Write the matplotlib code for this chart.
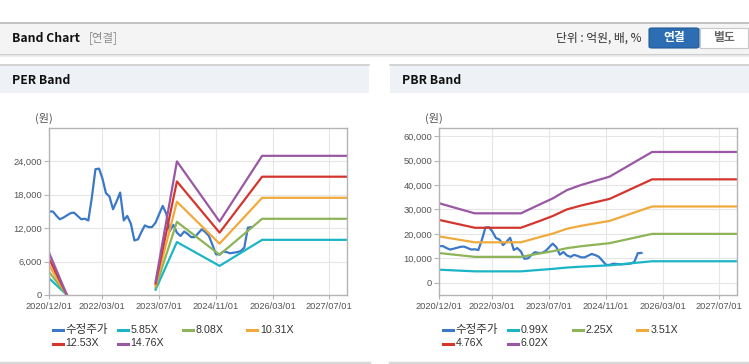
import numpy as np
import pandas as pd
import matplotlib
matplotlib.use('Agg')
import matplotlib.pyplot as plt
import matplotlib.dates as mdates
from matplotlib.patches import Rectangle, FancyBboxPatch
from matplotlib.lines import Line2D
from matplotlib.ticker import FuncFormatter

nan = np.nan

# adjusted share price (monthly)
price = [15000, 15000, 14200, 13600, 13900, 14300, 14700, 14800, 14200, 13600,
         13700, 13400, 17500, 22600, 22700, 21000, 18300, 17700, 15400, 16800,
         18400, 13400, 14200, 12800, 9800, 10000, 11400, 12500, 12200, 12200,
         13000, 14500, 16000, 14600, 11500, 12600, 11200, 10600, 11400, 11000,
         10400, 10400, 11100, 11800, 11300, 10600, 9000, 7300, 7300, 7800,
         7700, 7500, 7600, 7700, 7900, 8500, 12100, 12200]
price_start = '2020-12-01'

# PER band
per_dates = ['2020-12-01', '2021-05-01', '2022-01-01', '2023-06-01',
             '2023-12-01', '2024-12-01', '2025-12-01', '2027-12-01']
per_585 = [2970, 0, nan, 950, 9510, 5230, 9910, 9910]
per_808 = [4100, 0, nan, 1310, 13140, 7230, 13690, 13690]
per_1031 = [5240, 0, nan, 1680, 16760, 9220, 17460, 17460]
per_1253 = [6400, 0, nan, 2040, 20400, 11200, 21250, 21250]
per_1476 = [7500, 0, nan, 2400, 24000, 13200, 25000, 25000]
per_labels = ['수정주가', '5.85X', '8.08X', '10.31X', '12.53X', '14.76X']

# PBR band
pbr_dates = ['2020-12-01', '2021-10-01', '2022-11-01', '2023-04-01', '2023-08-01',
             '2023-12-01', '2024-04-01', '2024-12-01', '2025-12-01', '2027-12-01']
pbr_099 = [5350, 4670, 4670, 5230, 5680, 6230, 6580, 7140, 8800, 8800]
pbr_225 = [12150, 10600, 10600, 11900, 12900, 14150, 14950, 16200, 20000, 20000]
pbr_351 = [18950, 16550, 16550, 18550, 20100, 22100, 23300, 25300, 31200, 31200]
pbr_476 = [25700, 22500, 22500, 25100, 27300, 30000, 31600, 34300, 42300, 42300]
pbr_602 = [32500, 28400, 28400, 31800, 34500, 37900, 40000, 43400, 53500, 53500]
pbr_labels = ['수정주가', '0.99X', '2.25X', '3.51X', '4.76X', '6.02X']

xtick_dates = ['2020-12-01', '2022-03-01', '2023-07-01', '2024-11-01', '2026-03-01', '2027-07-01']
colors = ['#3b78c8', '#1bb5c6', '#8db457', '#f0aa3c', '#d4362e', '#9a58a4']

W, H = 749, 364
fig = plt.figure(figsize=(W / 100, H / 100), dpi=100)
fig.patch.set_facecolor('white')


def fx(x):
    return x / W


def fy(y):
    return 1 - y / H


def box(x0, y0, x1, y1, color):
    fig.add_artist(Rectangle((fx(x0), fy(y1)), (x1 - x0) / W, (y1 - y0) / H,
                             transform=fig.transFigure, color=color, lw=0))


def hline(x0, x1, y, color, lw=1):
    fig.add_artist(Line2D([fx(x0), fx(x1)], [fy(y), fy(y)], transform=fig.transFigure,
                          color=color, lw=lw))


kfont = ['Noto Sans CJK KR', 'DejaVu Sans']
nfont = ['Liberation Sans', 'Noto Sans CJK KR']

# top header
box(0, 22, 749, 53, '#f4f4f4')
hline(0, 749, 22.5, '#b9b9b9', 1.2)
hline(0, 749, 53.5, '#c9c9c9', 1)
hline(0, 749, 54.5, '#e4e4e4', 1)
hline(0, 749, 55.5, '#f0f0f0', 1)
fig.text(fx(12), fy(38), 'Band Chart', fontsize=8.8, fontweight='bold', family=kfont,
         color='#111111', va='center')
fig.text(fx(89), fy(38), '[연결]', fontsize=8.3, family=kfont, color='#8a8a8a', va='center')
fig.text(fx(642), fy(38), '단위 : 억원, 배, %', fontsize=8.5, family=kfont, color='#333333',
         va='center', ha='right')
fig.add_artist(FancyBboxPatch((fx(649), fy(48)), 50 / W, 20 / H, transform=fig.transFigure,
                              boxstyle='round,pad=0,rounding_size=0.004', fc='#2d6db3',
                              ec='#245c99', lw=0.8))
fig.add_artist(Rectangle((fx(700), fy(48)), 48 / W, 20 / H, transform=fig.transFigure,
                         fc='white', ec='#c8c8c8', lw=0.8))
fig.text(fx(674), fy(38), '연결', fontsize=8.5, fontweight='bold', family=kfont,
         color='white', va='center', ha='center')
fig.text(fx(724), fy(38), '별도', fontsize=8.5, fontweight='bold', family=kfont,
         color='#666666', va='center', ha='center')

# panel headers
for x0, x1, title in [(0, 369, 'PER Band'), (390, 749, 'PBR Band')]:
    box(x0, 64, x1, 93, '#eef1f6')
    hline(x0, x1, 64.5, '#cfcfcf', 1.2)
    hline(x0, x1, 362.5, '#d8d8d8', 2.5)
    fig.text(fx(x0 + 12), fy(80), title, fontsize=8.8, fontweight='bold', family=kfont,
             color='#111111', va='center')


def style(ax, yticks, ylim):
    ax.set_xlim(pd.Timestamp('2020-12-01'), pd.Timestamp('2027-12-02'))
    ax.set_ylim(*ylim)
    ax.set_xticks(pd.to_datetime(xtick_dates))
    ax.xaxis.set_major_formatter(mdates.DateFormatter('%Y/%m/%d'))
    ax.set_yticks(yticks)
    ax.yaxis.set_major_formatter(FuncFormatter(lambda v, p: f'{int(v):,}'))
    ax.grid(color='#e6e6e6', lw=0.8)
    ax.set_axisbelow(True)
    for s in ax.spines.values():
        s.set_color('#b4b4b4')
        s.set_linewidth(1)
    ax.tick_params(axis='x', colors='#b4b4b4', labelcolor='#555555', labelsize=6.7,
                   length=2.7, width=0.8, pad=2.5)
    ax.tick_params(axis='y', colors='#b4b4b4', labelcolor='#555555', labelsize=6.7,
                   length=3.8, width=0.8, pad=1.2)
    for lab in ax.get_xticklabels() + ax.get_yticklabels():
        lab.set_family(nfont)


def legend(x0, labels):
    cols = [52.7, 117.7, 182.7, 247.3, 52.7, 117.7]
    rows = [330, 330, 330, 330, 343.5, 343.5]
    for c, cx, cy, lab in zip(colors, cols, rows, labels):
        fig.add_artist(Line2D([fx(x0 + cx), fx(x0 + cx + 10)], [fy(cy), fy(cy)],
                              transform=fig.transFigure, color=c, lw=2.2))
        hangul = any(ord(ch) > 0x1100 for ch in lab)
        fig.text(fx(x0 + cx + 13), fy(cy), lab, fontsize=8.3 if hangul else 7.7,
                 family=kfont if hangul else nfont, color='#333333', va='center')


price_dates = pd.date_range(price_start, periods=len(price), freq='MS')

# PER axes
ax1 = fig.add_axes([fx(49.3), fy(295), 298 / W, 167 / H])
ax1.plot(price_dates, price, color=colors[0], lw=1.6)
pd_per = pd.to_datetime(per_dates)
for c, vals in zip(colors[1:], [per_585, per_808, per_1031, per_1253, per_1476]):
    ax1.plot(pd_per, vals, color=c, lw=1.6)
style(ax1, [0, 6000, 12000, 18000, 24000], (0, 30000))
fig.text(fx(44), fy(118), '(원)', fontsize=8, family=kfont, color='#555555',
         ha='center', va='center')
legend(0, per_labels)

# PBR axes
ax2 = fig.add_axes([fx(439.3), fy(295), 298 / W, 167 / H])
ax2.plot(price_dates, price, color=colors[0], lw=1.6)
pd_pbr = pd.to_datetime(pbr_dates)
for c, vals in zip(colors[1:], [pbr_099, pbr_225, pbr_351, pbr_476, pbr_602]):
    ax2.plot(pd_pbr, vals, color=c, lw=1.6)
style(ax2, [0, 10000, 20000, 30000, 40000, 50000, 60000], (-5000, 63300))
fig.text(fx(434), fy(118), '(원)', fontsize=8, family=kfont, color='#555555',
         ha='center', va='center')
legend(390, pbr_labels)

fig.savefig('out.png', dpi=100)
